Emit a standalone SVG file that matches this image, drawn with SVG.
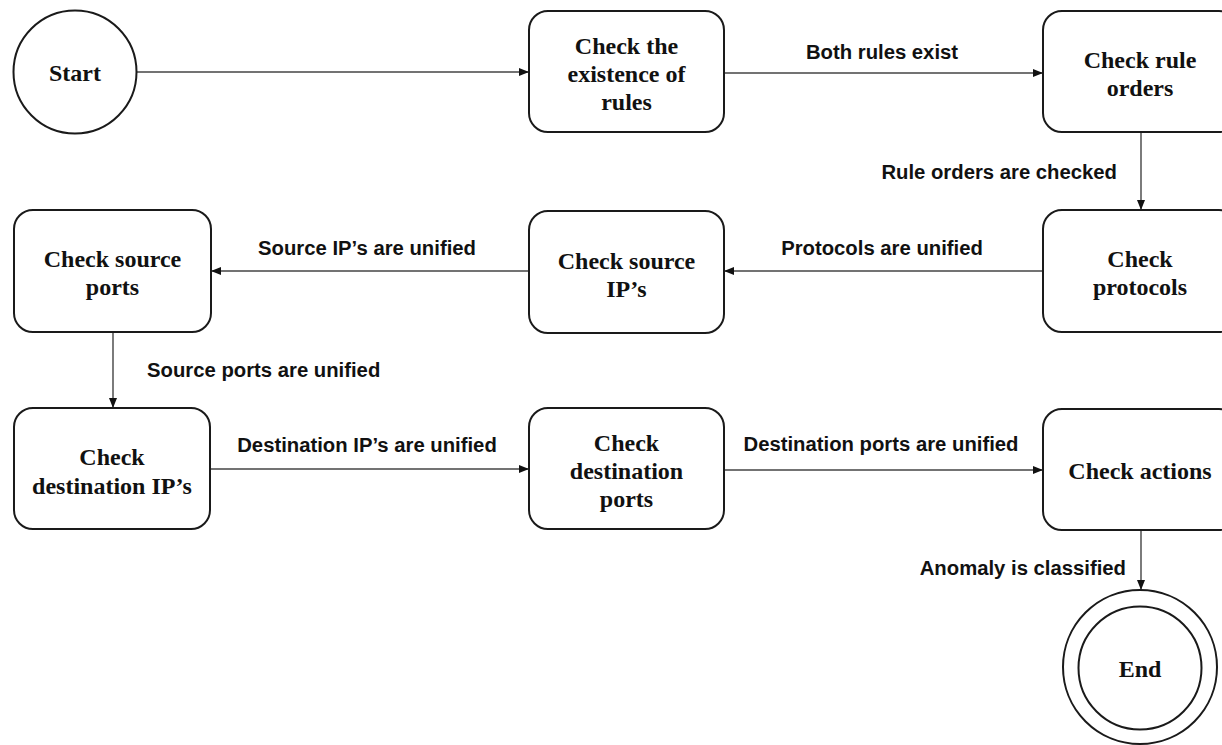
<svg xmlns="http://www.w3.org/2000/svg" width="1222" height="745" viewBox="0 0 1222 745">
<defs>
<style>
.box{fill:#fff;stroke:#1a1a1a;stroke-width:2}
.nt{font-family:"Liberation Serif","Times New Roman",serif;font-weight:bold;font-size:24px;fill:#111;text-anchor:middle}
.lb{font-family:"Liberation Sans",Arial,sans-serif;font-weight:bold;font-size:20.3px;fill:#111}
.cn{stroke:#444;stroke-width:1.4;fill:none;marker-end:url(#ah)}
</style>
<marker id="ah" markerUnits="userSpaceOnUse" markerWidth="10" markerHeight="10" viewBox="0 0 10 10" refX="10" refY="5" orient="auto">
<path d="M0,1 L10,5 L0,9 Z" fill="#111"/>
</marker>
</defs>
<rect width="1222" height="745" fill="#fff"/>
<g id="connectors">
<line class="cn" x1="137" y1="72" x2="529" y2="72"/>
<line class="cn" x1="724" y1="73" x2="1043" y2="73"/>
<line class="cn" x1="1141" y1="132" x2="1141" y2="210"/>
<line class="cn" x1="1043" y1="271" x2="724" y2="271"/>
<line class="cn" x1="529" y1="271" x2="211" y2="271"/>
<line class="cn" x1="113" y1="332" x2="113" y2="408"/>
<line class="cn" x1="210" y1="469" x2="529" y2="469"/>
<line class="cn" x1="724" y1="470" x2="1043" y2="470"/>
<line class="cn" x1="1141" y1="530" x2="1141" y2="590"/>
<text class="lb" x="882" y="59" text-anchor="middle">Both rules exist</text>
<text class="lb" x="1117" y="179" text-anchor="end">Rule orders are checked</text>
<text class="lb" x="882" y="255" text-anchor="middle">Protocols are unified</text>
<text class="lb" x="367" y="255" text-anchor="middle">Source IP’s are unified</text>
<text class="lb" x="147" y="377">Source ports are unified</text>
<text class="lb" x="367" y="452" text-anchor="middle">Destination IP’s are unified</text>
<text class="lb" x="881" y="451" text-anchor="middle">Destination ports are unified</text>
<text class="lb" x="1126" y="575" text-anchor="end">Anomaly is classified</text>
</g>
<g id="start">
<circle class="box" cx="75" cy="72" r="61.5"/>
<text class="nt" x="75" y="81">Start</text>
</g>
<g id="n-existence">
<rect class="box" x="529" y="11" width="195" height="121" rx="19"/>
<text class="nt" x="626.5" y="54">Check the</text>
<text class="nt" x="626.5" y="82">existence of</text>
<text class="nt" x="626.5" y="110">rules</text>
</g>
<g id="n-rule-orders">
<rect class="box" x="1043" y="11" width="195" height="121" rx="19"/>
<text class="nt" x="1140" y="68">Check rule</text>
<text class="nt" x="1140" y="96">orders</text>
</g>
<g id="n-protocols">
<rect class="box" x="1043" y="210" width="195" height="122" rx="19"/>
<text class="nt" x="1140" y="267">Check</text>
<text class="nt" x="1140" y="295">protocols</text>
</g>
<g id="n-source-ip">
<rect class="box" x="529" y="211" width="195" height="122" rx="19"/>
<text class="nt" x="626.5" y="269">Check source</text>
<text class="nt" x="626.5" y="297">IP’s</text>
</g>
<g id="n-source-ports">
<rect class="box" x="14" y="210" width="197" height="122" rx="19"/>
<text class="nt" x="112.5" y="267">Check source</text>
<text class="nt" x="112.5" y="295">ports</text>
</g>
<g id="n-dest-ip">
<rect class="box" x="14" y="408" width="196" height="121" rx="19"/>
<text class="nt" x="112" y="465">Check</text>
<text class="nt" x="112" y="494">destination IP’s</text>
</g>
<g id="n-dest-ports">
<rect class="box" x="529" y="408" width="195" height="121" rx="19"/>
<text class="nt" x="626.5" y="451">Check</text>
<text class="nt" x="626.5" y="479">destination</text>
<text class="nt" x="626.5" y="507">ports</text>
</g>
<g id="n-actions">
<rect class="box" x="1043" y="409" width="195" height="121" rx="19"/>
<text class="nt" x="1140" y="479">Check actions</text>
</g>
<g id="end">
<circle class="box" cx="1140" cy="667" r="77"/>
<circle class="box" cx="1140" cy="668" r="61.5"/>
<text class="nt" x="1140" y="677">End</text>
</g>
</svg>
